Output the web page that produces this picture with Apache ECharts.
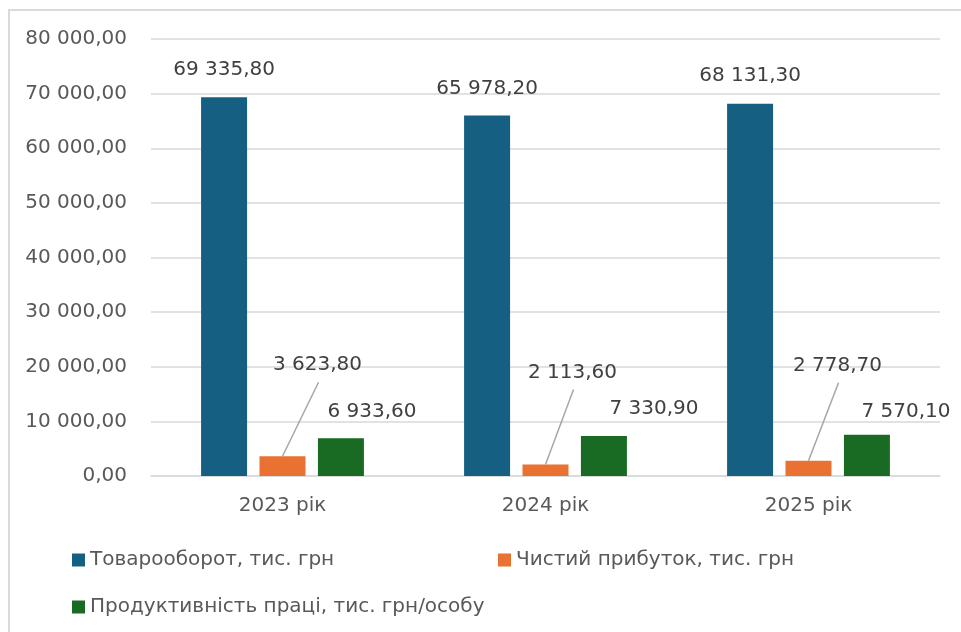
<!DOCTYPE html>
<html>
<head>
<meta charset="utf-8">
<script src="https://cdn.jsdelivr.net/npm/echarts@6/dist/echarts.min.js"></script>
<style>
  html, body { margin: 0; padding: 0; background: #ffffff; }
  #chart { width: 961px; height: 632px; }
</style>
</head>
<body>
<div id="chart"></div>
<script>
// Categories and series values
const years = ['2023 рік', '2024 рік', '2025 рік'];
const turnover = [69335.8, 65978.2, 68131.3];
const netProfit = [3623.8, 2113.6, 2778.7];
const productivity = [6933.6, 7330.9, 7570.1];
const seriesNames = [
  'Товарооборот, тис. грн',
  'Чистий прибуток, тис. грн',
  'Продуктивність праці, тис. грн/особу'
];
const yTicks = { min: 0, max: 80000, step: 10000 };

// Label placement tweaks (pixel offsets from the top of each bar)
const turnoverLabelShift = [[0, -17], [0, -17], [0, -18]];
const profitLabelShift = [[35, -81], [27, -82], [29, -85]];
const productivityLabelShift = [[31, -16], [50, -17], [39, -13]];

const FONT = 'DejaVu Sans';
const colors = ['#156082', '#E97132', '#196B24'];

function fmt(v) {
  const parts = Number(v).toFixed(2).split('.');
  parts[0] = parts[0].replace(/\B(?=(\d{3})+(?!\d))/g, ' ');
  return parts[0] + ',' + parts[1];
}

function withLabels(values, shifts) {
  return values.map((v, i) => ({ value: v, label: { offset: shifts[i] } }));
}

const labelBase = {
  show: true,
  position: 'top',
  distance: 0,
  fontFamily: FONT,
  fontSize: 20,
  lineHeight: 20,
  color: '#404040',
  formatter: p => fmt(p.value)
};

const chart = echarts.init(document.getElementById('chart'), null, { renderer: 'canvas' });

chart.setOption({
  backgroundColor: '#ffffff',
  animation: false,
  graphic: [{
    type: 'rect',
    shape: { x: 9, y: 10, width: 1000, height: 700 },
    style: { fill: 'none', stroke: '#d9d9d9', lineWidth: 2 },
    silent: true,
    z: -10
  }],
  grid: { left: 151, right: 21, top: 39, bottom: 156, containLabel: false },
  legend: [
    { data: [seriesNames[0]], left: 72, top: 550 },
    { data: [seriesNames[1]], left: 498, top: 550 },
    { data: [seriesNames[2]], left: 72, top: 597 }
  ].map(l => Object.assign(l, {
    icon: 'rect',
    itemWidth: 13,
    itemHeight: 13,
    itemGap: 6,
    padding: 0,
    textStyle: { fontFamily: FONT, fontSize: 20, color: '#595959' }
  })),
  xAxis: {
    type: 'category',
    data: years,
    axisLine: { show: true, lineStyle: { color: '#d9d9d9', width: 1.5 } },
    axisTick: { show: false },
    axisLabel: { fontFamily: FONT, fontSize: 20, color: '#595959', margin: 20 }
  },
  yAxis: {
    type: 'value',
    min: yTicks.min,
    max: yTicks.max,
    interval: yTicks.step,
    axisLine: { show: false },
    axisTick: { show: false },
    splitLine: { lineStyle: { color: '#d9d9d9', width: 1.5 } },
    axisLabel: {
      fontFamily: FONT, fontSize: 20, color: '#595959', margin: 24,
      formatter: v => fmt(v)
    }
  },
  series: [
    {
      name: seriesNames[0], type: 'bar', barWidth: 46, barGap: '27%',
      itemStyle: { color: colors[0] },
      label: labelBase,
      data: withLabels(turnover, turnoverLabelShift)
    },
    {
      name: seriesNames[1], type: 'bar', barWidth: 46, barGap: '27%',
      itemStyle: { color: colors[1] },
      label: labelBase,
      data: withLabels(netProfit, profitLabelShift)
    },
    {
      name: seriesNames[2], type: 'bar', barWidth: 46, barGap: '27%',
      itemStyle: { color: colors[2] },
      label: labelBase,
      data: withLabels(productivity, productivityLabelShift)
    },
    {
      // leader lines from the middle (profit) bars up to their shifted labels
      name: 'leader', type: 'custom', silent: true, z: 5,
      data: netProfit.map((v, i) => [i, v]),
      encode: { x: 0, y: 1 },
      renderItem: (params, api) => {
        const top = api.coord([api.value(0), api.value(1)]);
        const s = profitLabelShift[params.dataIndex];
        return {
          type: 'line',
          shape: { x1: top[0], y1: top[1], x2: top[0] + s[0] + 1, y2: top[1] - 10 + s[1] + 17 },
          style: { stroke: '#a6a6a6', lineWidth: 1.5 }
        };
      }
    }
  ]
});
</script>
</body>
</html>
